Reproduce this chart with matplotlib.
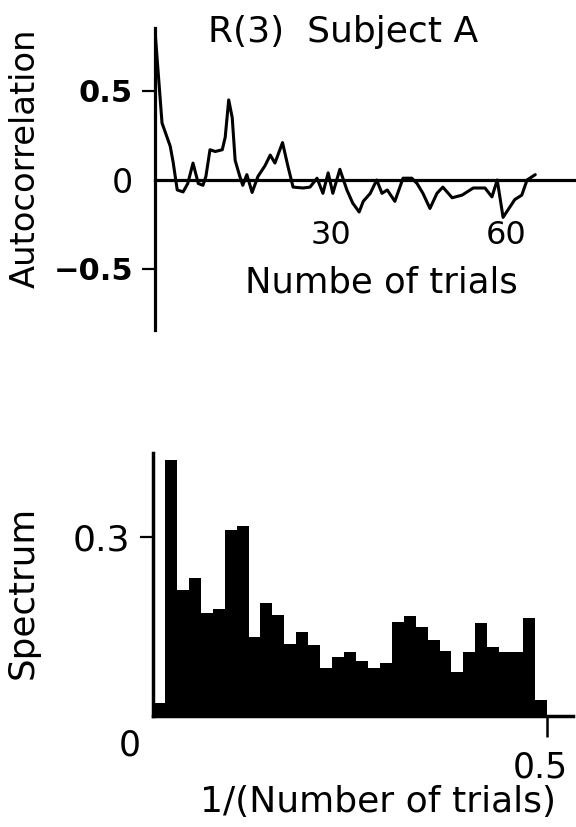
import matplotlib
matplotlib.use("Agg")
import matplotlib.pyplot as plt
import matplotlib.transforms as mtransforms
import numpy as np

# ---------------- data ----------------
# autocorrelation curve (lag in trials, value)
lags = [0, 1.2, 2.6, 3.1, 3.8, 4.8, 5.6, 6.5, 7.4, 8.2, 8.7, 9.4, 10.3, 11.5,
        12.0, 12.6, 13.2, 13.7, 14.5, 15.0, 15.7, 16.6, 17.6, 18.8, 19.7, 20.5,
        21.8, 22.7, 23.6, 25.3, 26.5, 27.7, 28.7, 29.6, 30.4, 31.6, 32.8, 33.8,
        34.9, 35.6, 36.8, 37.9, 38.8, 39.7, 41.0, 42.4, 43.9, 44.8, 45.8, 47.0,
        48.2, 49.2, 50.8, 52.5, 54.4, 56.4, 57.6, 58.5, 59.5, 60.7, 61.5, 62.7,
        63.6, 65.0]
acf = [0.84, 0.32, 0.19, 0.10, -0.056, -0.067, -0.02, 0.095, -0.02, -0.03, 0.02,
       0.17, 0.16, 0.17, 0.24, 0.45, 0.35, 0.11, 0.02, -0.03, 0.03, -0.07, 0.02,
       0.08, 0.14, 0.095, 0.21, 0.08, -0.04, -0.045, -0.04, 0.01, -0.075, 0.04,
       -0.075, 0.06, -0.056, -0.13, -0.18, -0.12, -0.075, 0.0, -0.075, -0.056,
       -0.12, 0.01, 0.01, -0.02, -0.075, -0.16, -0.075, -0.04, -0.10, -0.085,
       -0.045, -0.045, -0.095, 0.0, -0.21, -0.15, -0.11, -0.085, 0.0, 0.03]

# spectrum: 33 equal-width bins from 0 to 0.5
spectrum = [0.022, 0.429, 0.212, 0.231, 0.172, 0.180, 0.311, 0.318, 0.132,
            0.190, 0.169, 0.121, 0.140, 0.119, 0.081, 0.099, 0.108, 0.092,
            0.080, 0.089, 0.158, 0.168, 0.149, 0.127, 0.109, 0.073, 0.108,
            0.156, 0.116, 0.107, 0.107, 0.165, 0.026]
freq_max = 0.5

top_yticks = [-0.5, 0, 0.5]
top_yticklabels = ["\u22120.5", "0", "0.5"]
top_xticks = [30, 60]
top_xticklabels = ["30", "60"]
bot_yticks = [0.3]
bot_yticklabels = ["0.3"]
bot_xticks = [0, 0.5]
bot_xticklabels = ["0", "0.5"]

title = "R(3)  Subject A"
top_ylabel = "Autocorrelation"
top_xlabel = "Numbe of trials"
bot_ylabel = "Spectrum"
bot_xlabel = "1/(Number of trials)"

plt.rcParams["font.family"] = ["DejaVu Sans"]

W, H = 576, 827
fig = plt.figure(figsize=(W / 100, H / 100), dpi=100)

# ---------------- top: autocorrelation ----------------
ax1 = fig.add_axes([155 / W, (H - 330) / H, 420 / W, 302 / H])
ax1.plot(lags, acf, color="black", lw=2.2, solid_joinstyle="round",
         solid_capstyle="round")
ax1.set_xlim(0, 420 / 5.85)
ax1.set_ylim(-0.843, 0.854)
for s in ("top", "right"):
    ax1.spines[s].set_visible(False)
ax1.spines["left"].set_linewidth(2.3)
ax1.spines["bottom"].set_position(("data", 0))
ax1.spines["bottom"].set_linewidth(2.3)

ax1.set_xticks(top_xticks, labels=top_xticklabels)
ax1.tick_params(axis="x", length=0, pad=29, labelsize=23)
ax1.set_yticks(top_yticks, labels=top_yticklabels)
ax1.tick_params(axis="y", length=9.4, width=1.6, pad=6.5, labelsize=22)
yt = ax1.yaxis.get_major_ticks()
for t, v in zip(yt, top_yticks):
    if v == 0:
        t.tick1line.set_visible(False)
        t.label1.set_fontsize(24)
        t.label1.set_fontweight("normal")
    else:
        t.label1.set_fontweight("bold")

ax1.set_ylabel(top_ylabel, fontsize=24.3)
ax1.yaxis.set_label_coords(-0.269, 0.570)
ax1.set_xlabel(top_xlabel, fontsize=25.5)
ax1.xaxis.set_label_coords(0.538, 0.212)
ax1.set_title(title, fontsize=26, x=0.448, y=0.954, pad=0)

# ---------------- bottom: spectrum ----------------
ax2 = fig.add_axes([153 / W, (H - 716) / H, 420 / W, 263 / H])
nb = len(spectrum)
edges = np.arange(nb) * (freq_max / nb)
ax2.bar(edges, spectrum, width=freq_max / nb, align="edge", color="black",
        linewidth=0)
ax2.set_xlim(0, 420 / 788)
ax2.set_ylim(0, 0.4408)
for s in ("top", "right"):
    ax2.spines[s].set_visible(False)
ax2.spines["left"].set_linewidth(2.5)
ax2.spines["bottom"].set_linewidth(2.5)

ax2.set_yticks(bot_yticks, labels=bot_yticklabels)
ax2.tick_params(axis="y", length=9.4, width=1.6, pad=7, labelsize=26)
ax2.set_xticks(bot_xticks, labels=bot_xticklabels)
ax2.tick_params(axis="x", direction="out", length=15, width=1.8, pad=-6,
                labelsize=25)
xt = ax2.xaxis.get_major_ticks()
xt[0].tick1line.set_visible(False)
offsets = [(-0.23, 0.0), (-0.07, -0.22)]
for t, (dx, dy) in zip(xt, offsets):
    t.label1.set_transform(t.label1.get_transform() +
                           mtransforms.ScaledTranslation(dx, dy, fig.dpi_scale_trans))

ax2.set_ylabel(bot_ylabel, fontsize=25.7)
ax2.yaxis.set_label_coords(-0.269, 0.468)
ax2.set_xlabel(bot_xlabel, fontsize=26)
ax2.xaxis.set_label_coords(0.536, -0.262)

fig.savefig("out.png", dpi=100)
